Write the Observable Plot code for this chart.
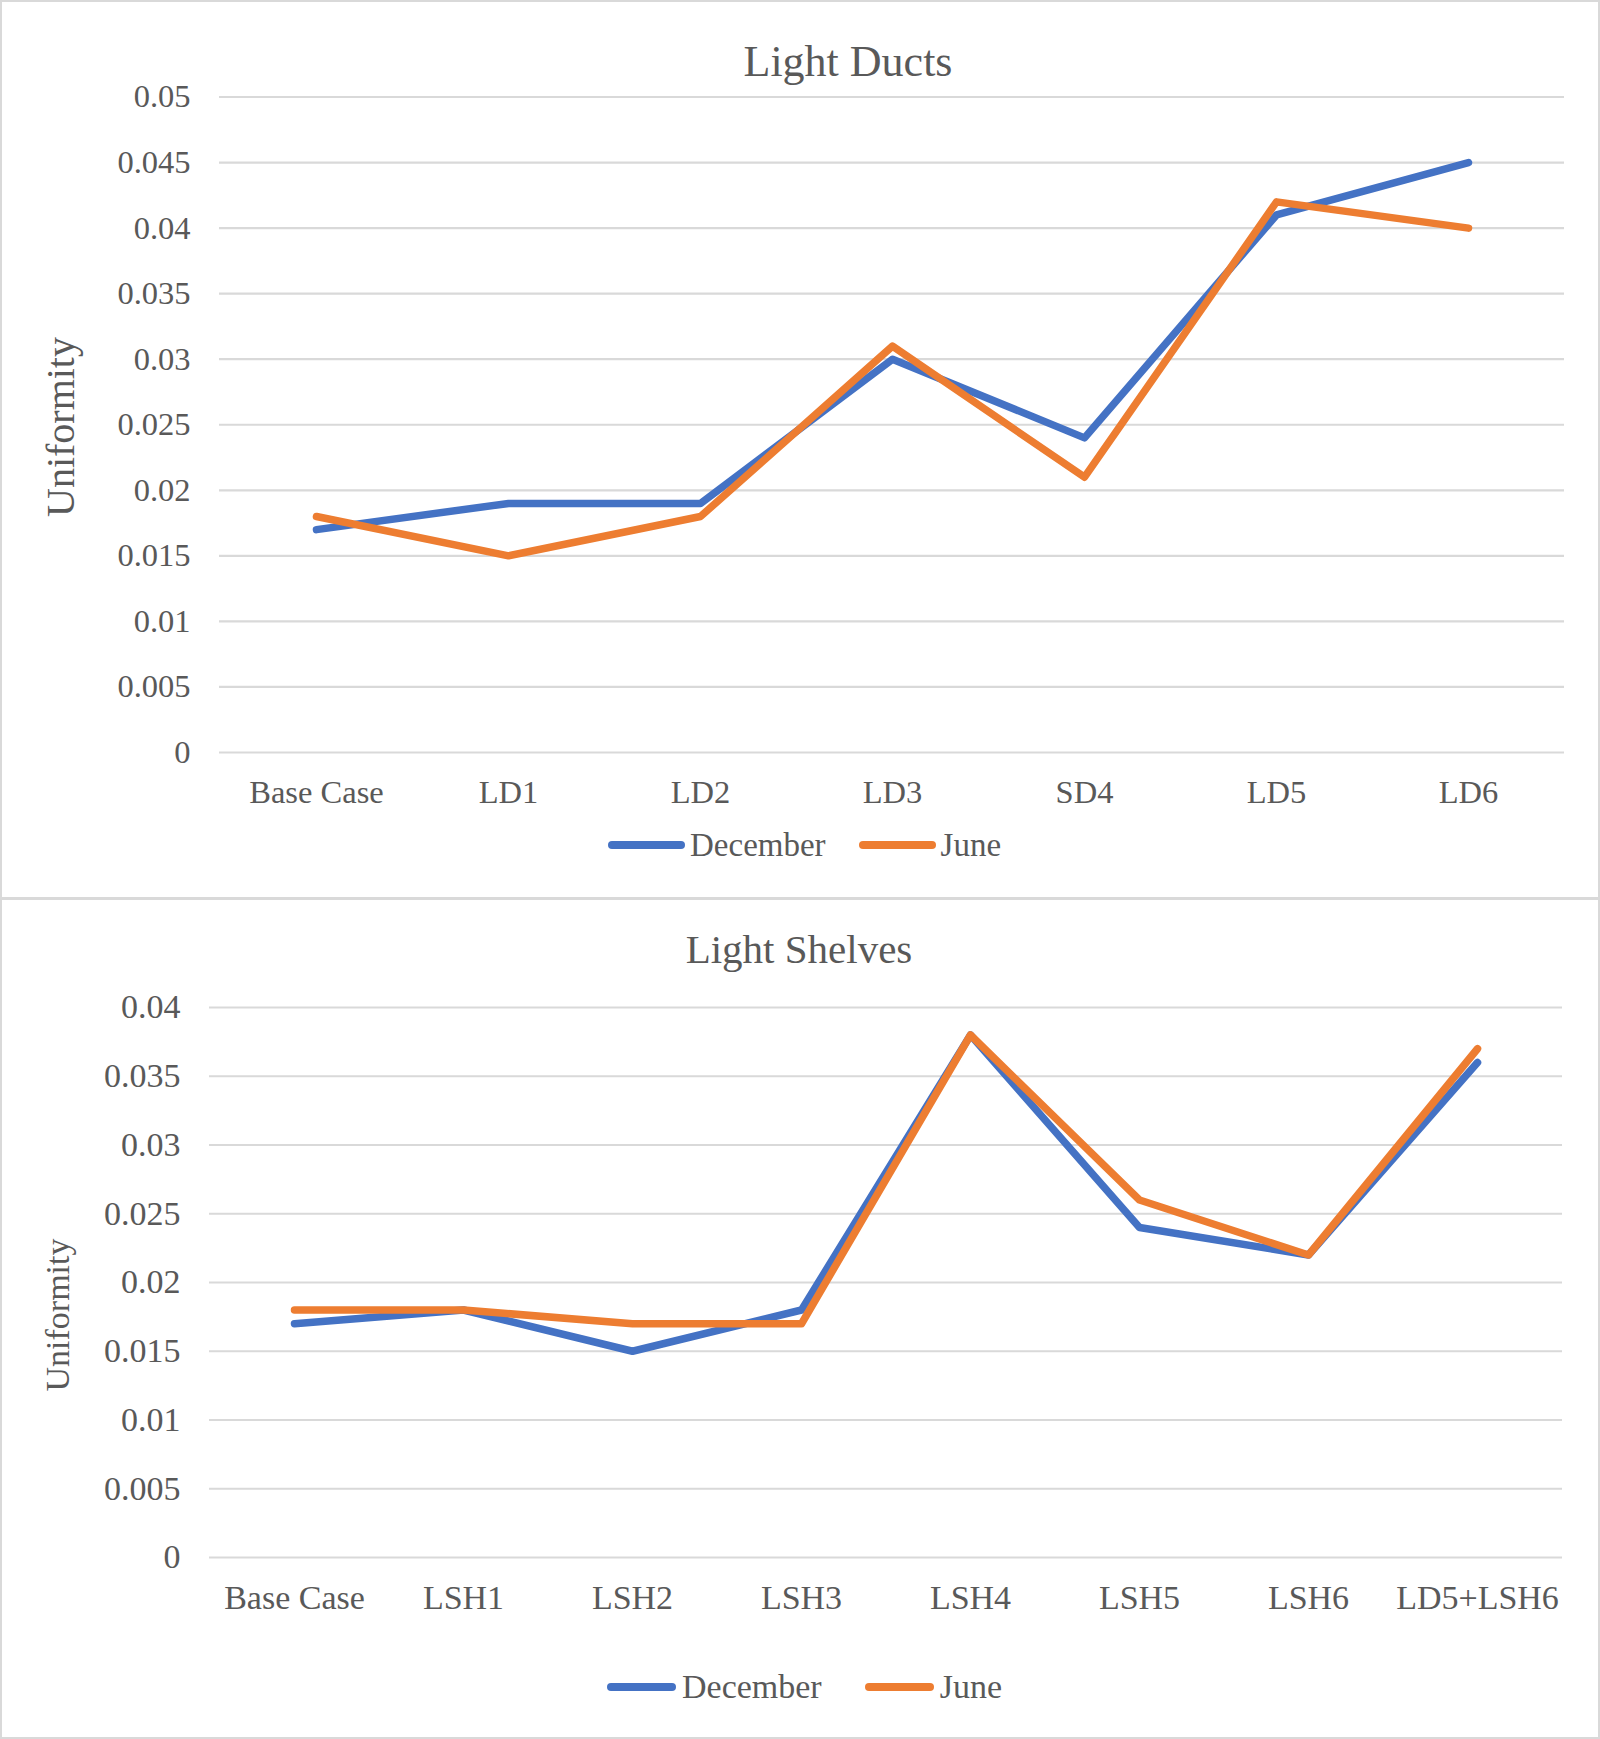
<!DOCTYPE html>
<html><head><meta charset="utf-8">
<script src="https://cdn.jsdelivr.net/npm/d3@7"></script>
<script src="https://cdn.jsdelivr.net/npm/@observablehq/plot@0.6"></script>
<style>
body{margin:0;background:#fff;}
#root{position:relative;width:1600px;height:1739px;font-family:"Liberation Serif","Times New Roman",serif;color:#595959;overflow:hidden;}
.plotwrap{position:absolute;left:0;}
.panel{position:absolute;left:0;width:1600px;box-sizing:border-box;border:2.5px solid #d9d9d9;pointer-events:none;}
.title{position:absolute;line-height:1;white-space:nowrap;transform:translateX(-50%);}
.ylab{position:absolute;line-height:1;white-space:nowrap;transform:translate(-50%,-50%) rotate(-90deg);}
.legend{position:absolute;display:flex;align-items:center;height:40px;white-space:nowrap;line-height:1;}
.sw{height:8px;border-radius:4px;}
</style></head>
<body>
<div id="root"></div>
<script>
// ---- data ----
const seriesNames = ["December", "June"];
const seriesColors = ["#4472C4", "#ED7D31"];

const ductCats = ["Base Case", "LD1", "LD2", "LD3", "SD4", "LD5", "LD6"];
const ductDecember = [0.017, 0.019, 0.019, 0.030, 0.024, 0.041, 0.045];
const ductJune     = [0.018, 0.015, 0.018, 0.031, 0.021, 0.042, 0.040];
const ductTicks = [0, 0.005, 0.01, 0.015, 0.02, 0.025, 0.03, 0.035, 0.04, 0.045, 0.05];

const shelfCats = ["Base Case", "LSH1", "LSH2", "LSH3", "LSH4", "LSH5", "LSH6", "LD5+LSH6"];
const shelfDecember = [0.017, 0.018, 0.015, 0.018, 0.038, 0.024, 0.022, 0.036];
const shelfJune     = [0.018, 0.018, 0.017, 0.017, 0.038, 0.026, 0.022, 0.037];
const shelfTicks = [0, 0.005, 0.01, 0.015, 0.02, 0.025, 0.03, 0.035, 0.04];

const titles = ["Light Ducts", "Light Shelves"];
const yLabel = "Uniformity";

function toRows(cats, dec, jun) {
  const rows = [];
  cats.forEach((c, i) => rows.push({cat: c, series: seriesNames[0], value: dec[i]}));
  cats.forEach((c, i) => rows.push({cat: c, series: seriesNames[1], value: jun[i]}));
  return rows;
}

function chart(o) {
  return Plot.plot({
    width: 1600, height: o.height,
    marginLeft: o.mL, marginRight: o.mR, marginTop: o.mT, marginBottom: o.mB,
    style: {fontFamily: '"Liberation Serif","Times New Roman",serif', fontSize: o.font + "px", color: "#595959", background: "transparent", overflow: "visible"},
    x: {type: "point", domain: o.cats, padding: 0.5, tickSize: 0, tickPadding: o.xPad, label: null},
    y: {domain: [0, o.ticks[o.ticks.length - 1]], ticks: o.ticks, tickSize: 0, tickPadding: 29, tickFormat: d => String(d), label: null},
    color: {domain: seriesNames, range: seriesColors},
    marks: [
      Plot.ruleY(o.ticks, {stroke: "#d9d9d9", strokeWidth: 2.2}),
      Plot.line(toRows(o.cats, o.dec, o.jun), {x: "cat", y: "value", z: "series", stroke: "series", strokeWidth: 7.5, strokeLinecap: "round", strokeLinejoin: "round"})
    ]
  });
}

const root = document.getElementById("root");

function addPlot(svg, top) {
  const w = document.createElement("div");
  w.className = "plotwrap";
  w.style.top = top + "px";
  w.appendChild(svg);
  root.appendChild(w);
}

addPlot(chart({height: 898, mL: 219, mR: 36, mT: 96.5, mB: 146, font: 32.5, xPad: 27,
  cats: ductCats, dec: ductDecember, jun: ductJune, ticks: ductTicks}), 0);
addPlot(chart({height: 841, mL: 209, mR: 38, mT: 109, mB: 182, font: 34, xPad: 27.5,
  cats: shelfCats, dec: shelfDecember, jun: shelfJune, ticks: shelfTicks}), 898);

function addTitle(text, cx, top, size) {
  const d = document.createElement("div");
  d.className = "title";
  d.textContent = text;
  d.style.left = cx + "px"; d.style.top = top + "px"; d.style.fontSize = size + "px";
  root.appendChild(d);
}
addTitle(titles[0], 848, 40.2, 44);
addTitle(titles[1], 799, 928.7, 41);

function addYLabel(cx, cy, size) {
  const d = document.createElement("div");
  d.className = "ylab";
  d.textContent = yLabel;
  d.style.left = cx + "px"; d.style.top = cy + "px"; d.style.fontSize = size + "px";
  root.appendChild(d);
}
addYLabel(61, 427, 40);
addYLabel(58, 1315, 34);

function addLegend(left, cy, size, swW, gapIn, gapBetween) {
  const d = document.createElement("div");
  d.className = "legend";
  d.style.left = left + "px"; d.style.top = (cy - 20) + "px"; d.style.fontSize = size + "px";
  seriesNames.forEach((n, i) => {
    const s = document.createElement("div");
    s.className = "sw";
    s.style.width = swW + "px";
    s.style.background = seriesColors[i];
    s.style.marginRight = gapIn + "px";
    if (i > 0) s.style.marginLeft = gapBetween + "px";
    const t = document.createElement("span");
    t.textContent = n;
    d.appendChild(s); d.appendChild(t);
  });
  root.appendChild(d);
}
addLegend(608, 845, 33, 77, 5, 33);
addLegend(607, 1687, 34, 69, 6, 43);

function addPanel(top, h) {
  const p = document.createElement("div");
  p.className = "panel";
  p.style.top = top + "px"; p.style.height = h + "px";
  root.appendChild(p);
}
addPanel(0, 898.5);
addPanel(898, 841);
</script>
</body></html>
